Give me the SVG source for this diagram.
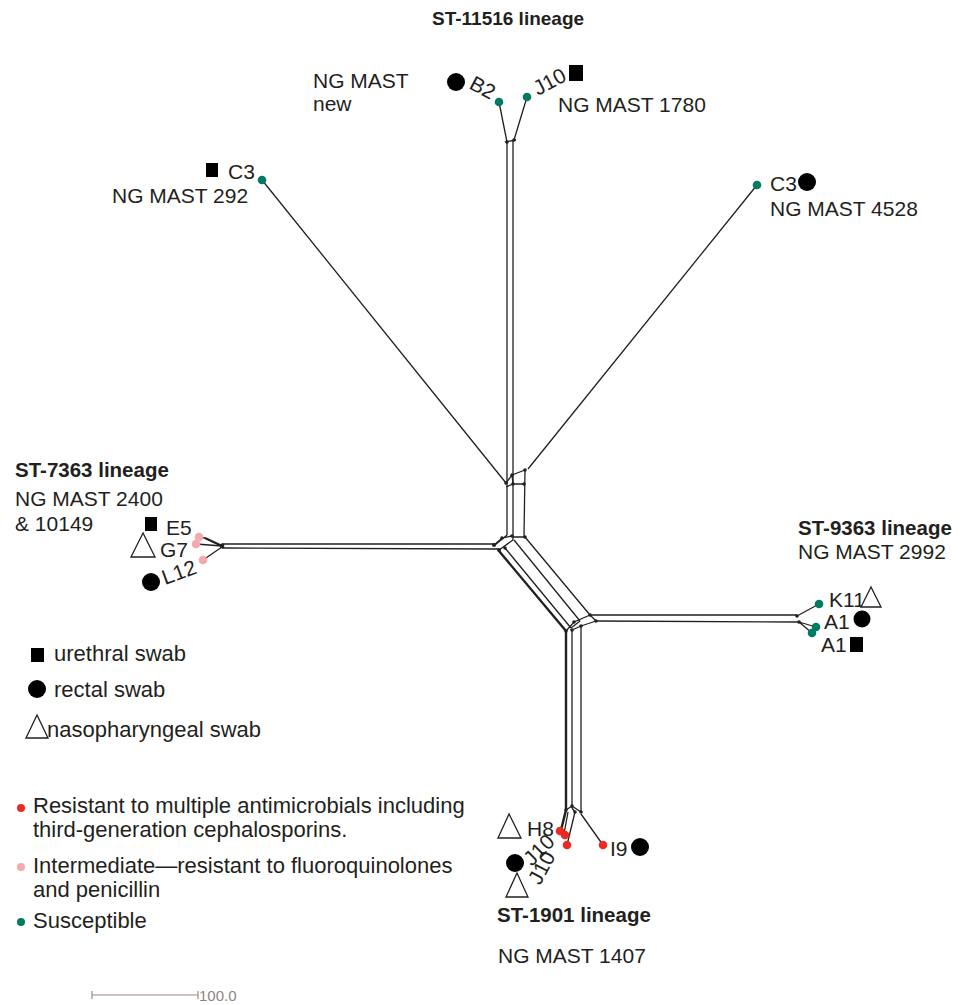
<svg xmlns="http://www.w3.org/2000/svg" width="971" height="1005" viewBox="0 0 971 1005">
<style>
text{font-family:"Liberation Sans",Arial,sans-serif;fill:#231f20;font-size:21px}
.t{font-weight:bold;font-size:20.5px}
.l{font-size:22px}
.e{stroke:#231f20;stroke-width:1.3;fill:none}
.th{stroke:#231f20;stroke-width:2.4;fill:none}
.j{fill:#231f20}
.g{fill:#007a63}
.r{fill:#ec2a22}
.p{fill:#f5a9ad}
.k{fill:#000}
.tri{fill:#fff;stroke:#231f20;stroke-width:1.3}
</style>
<rect width="971" height="1005" fill="#fff"/>
<g id="connectors">
<path class="e" d="M499,102 L507,142 M527,97 L514,140 M505,142 L516,140"/>
<path class="e" d="M507,142 L507,535 M513,141 L513,540"/>
<path class="e" d="M262,180 L506,483 M757,185 L528,469"/>
<path class="e" d="M506,483 L512,475 L525,470 M506,487 L513,484 L524,484 M525,470 L524,537 M512,475 L513,484"/>
<path class="e" d="M507,535 L495,545 M513,540 L499,550 M513,537 L525,537 M494,545 L502,538 L512,536"/>
<path class="e" d="M222,544 L494,544 M222,548 L498,549"/>
<path class="th" d="M222,546 L205,538"/>
<path class="e" d="M205,538 L199,537 M222,546 L196,544 M222,547 L203,560"/>
<path class="th" d="M499,551 L566,631"/>
<path class="e" d="M505,548 L571,628 M514,540 L580,621 M525,537 L590,615"/>
<path class="e" d="M566,631 L574,622 L590,615 M571,628 L580,621 M572,630 L581,626 L596,621 M581,626 L581,812 M590,615 L596,621"/>
<path class="e" d="M590,615 L797,615 M596,621 L799,622"/>
<path class="e" d="M797,616 L819,604 M799,622 L816,627 M799,622 L812,633"/>
<path class="th" d="M566,631 L566,810"/>
<path class="e" d="M572,630 L572,808 M566,810 L572,806 L581,812 M572,808 L575,812"/>
<path class="th" d="M566,810 L561,830"/>
<path class="e" d="M568,812 L564,834 M575,812 L567,845 M581,814 L603,845"/>
</g>
<g id="junctions" class="j">
<circle cx="507" cy="142" r="1.8"/><circle cx="514" cy="140" r="1.8"/>
<circle cx="506" cy="483" r="1.8"/><circle cx="512" cy="475" r="1.8"/><circle cx="525" cy="470" r="1.8"/><circle cx="524" cy="484" r="1.8"/><circle cx="513" cy="484" r="1.8"/>
<circle cx="494" cy="545" r="2"/><circle cx="499" cy="550" r="2"/><circle cx="502" cy="538" r="1.8"/><circle cx="512" cy="536" r="1.8"/><circle cx="525" cy="537" r="1.8"/><circle cx="505" cy="548" r="1.8"/>
<circle cx="222" cy="546" r="2.4"/>
<circle cx="566" cy="631" r="1.8"/><circle cx="574" cy="622" r="1.8"/><circle cx="590" cy="615" r="1.8"/><circle cx="596" cy="621" r="1.8"/><circle cx="572" cy="630" r="1.8"/><circle cx="581" cy="626" r="1.8"/>
<circle cx="797" cy="616" r="1.8"/><circle cx="799" cy="622" r="1.8"/>
<circle cx="566" cy="810" r="1.8"/><circle cx="572" cy="806" r="1.8"/><circle cx="581" cy="812" r="1.8"/><circle cx="575" cy="812" r="1.8"/>
</g>
<g id="lineage-11516">
<text class="t" x="432" y="25" style="font-size:19px">ST-11516 lineage</text>
</g>
<g id="node-B2">
<circle class="g" cx="499" cy="102" r="4.3"/>
<text x="313" y="88">NG MAST</text>
<text x="313" y="111">new</text>
<circle class="k" cx="456" cy="82" r="9"/>
<text x="468" y="88" transform="rotate(28 468 88)">B2</text>
</g>
<g id="node-J10-top">
<circle class="g" cx="527" cy="97" r="4.3"/>
<text x="538" y="96" transform="rotate(-28 538 96)">J10</text>
<rect class="k" x="569" y="65" width="14" height="16"/>
<text x="558" y="112">NG MAST 1780</text>
</g>
<g id="node-C3-left">
<circle class="g" cx="262" cy="180" r="4.3"/>
<rect class="k" x="206" y="163" width="12" height="14"/>
<text x="228" y="179">C3</text>
<text x="112" y="203">NG MAST 292</text>
</g>
<g id="node-C3-right">
<circle class="g" cx="757" cy="185" r="4.3"/>
<text x="770" y="191">C3</text>
<circle class="k" cx="807" cy="182" r="9"/>
<text x="770" y="216">NG MAST 4528</text>
</g>
<g id="lineage-7363">
<text class="t" x="15" y="477">ST-7363 lineage</text>
<text x="15" y="506">NG MAST 2400</text>
<text x="15" y="531">&amp; 10149</text>
</g>
<g id="node-E5">
<circle class="p" cx="199" cy="537" r="4.3"/>
<rect class="k" x="145" y="517" width="12" height="14"/>
<text x="166" y="535">E5</text>
</g>
<g id="node-G7">
<circle class="p" cx="196" cy="544" r="4.3"/>
<polygon class="tri" points="143,533 131,557 155,557"/>
<text x="160" y="557">G7</text>
</g>
<g id="node-L12">
<circle class="p" cx="203" cy="560" r="4.3"/>
<circle class="k" cx="151" cy="582" r="9"/>
<text x="165" y="585" transform="rotate(-20 165 585)">L12</text>
</g>
<g id="lineage-9363">
<text class="t" x="798" y="535">ST-9363 lineage</text>
<text x="798" y="559">NG MAST 2992</text>
</g>
<g id="node-K11">
<circle class="g" cx="819" cy="604" r="4.3"/>
<text x="829" y="607">K11</text>
<polygon class="tri" points="871,587 861,607 881,607"/>
</g>
<g id="node-A1a">
<circle class="g" cx="816" cy="627" r="4.3"/>
<text x="824" y="629">A1</text>
<circle class="k" cx="862" cy="619" r="8.5"/>
</g>
<g id="node-A1b">
<circle class="g" cx="812" cy="633" r="4.3"/>
<text x="821" y="652">A1</text>
<rect class="k" x="850" y="637" width="13" height="15"/>
</g>
<g id="node-H8">
<circle class="r" cx="560" cy="831" r="4.3"/>
<polygon class="tri" points="509,814 498,838 521,838"/>
<text x="527" y="836">H8</text>
</g>
<g id="node-J10-a">
<circle class="r" cx="565" cy="835" r="4.3"/>
<circle class="k" cx="515" cy="863" r="9"/>
<text x="532" y="867" transform="rotate(-45 532 867)">J10</text>
</g>
<g id="node-J10-b">
<circle class="r" cx="567" cy="845" r="4.3"/>
<polygon class="tri" points="517,873 506,897 528,897"/>
<text x="540" y="886" transform="rotate(-62 540 886)">J10</text>
</g>
<g id="node-I9">
<circle class="r" cx="603" cy="845" r="4.3"/>
<text x="610" y="856">I9</text>
<circle class="k" cx="640" cy="847" r="9"/>
</g>
<g id="lineage-1901">
<text class="t" x="497" y="922">ST-1901 lineage</text>
<text x="498" y="963">NG MAST 1407</text>
</g>
<g id="legend">
<rect class="k" x="31" y="648" width="13" height="14"/>
<text class="l" x="54" y="661">urethral swab</text>
<circle class="k" cx="37" cy="689" r="9"/>
<text class="l" x="54" y="697">rectal swab</text>
<polygon class="tri" points="37,715 26,738 48,738"/>
<text class="l" x="47" y="737">nasopharyngeal swab</text>
<circle class="r" cx="21" cy="808" r="4"/>
<text class="l" x="33" y="813">Resistant to multiple antimicrobials including</text>
<text class="l" x="33" y="837">third-generation cephalosporins.</text>
<circle class="p" cx="21" cy="867" r="4"/>
<text class="l" x="33" y="873">Intermediate—resistant to fluoroquinolones</text>
<text class="l" x="33" y="897">and penicillin</text>
<circle class="g" cx="21" cy="922" r="4"/>
<text class="l" x="33" y="928">Susceptible</text>
</g>
<g id="scale">
<path d="M92,995 L198,995 M92,991 L92,999 M198,991 L198,999" stroke="#9b8a88" stroke-width="1.2" fill="none"/>
<text x="199" y="1001" style="font-size:15px;fill:#8e8482">100.0</text>
</g>
</svg>
